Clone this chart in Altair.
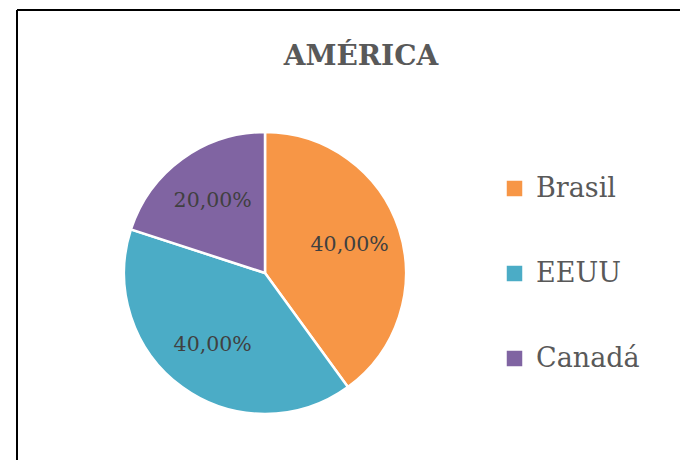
import altair as alt
import pandas as pd

countries = ["Brasil", "EEUU", "Canadá"]
shares = [40, 40, 20]
labels = ["40,00%", "40,00%", "20,00%"]
colors = ["#F79646", "#4BACC6", "#8064A2"]
title_text = "AMÉRICA"

df = pd.DataFrame({
    "pais": countries,
    "valor": shares,
    "etiqueta": labels,
    "orden": list(range(len(countries))),
})

W, H = 663, 450
CX, CY = 248, 263
R = 141
FONT = "DejaVu Serif"

base = alt.Chart(df).encode(
    theta=alt.Theta("valor:Q", stack=True),
    order=alt.Order("orden:Q"),
)

pie = base.mark_arc(outerRadius=R, stroke="white", strokeWidth=2.5).encode(
    x=alt.value(CX),
    y=alt.value(CY),
    color=alt.Color(
        "pais:N",
        sort=countries,
        scale=alt.Scale(domain=countries, range=colors),
        legend=alt.Legend(
            title=None,
            orient="none",
            legendX=484,
            legendY=165,
            padding=0,
            symbolType="square",
            symbolSize=240,
            symbolStrokeWidth=0,
            symbolOpacity=1,
            labelFont=FONT,
            labelFontSize=27,
            labelColor="#595959",
            labelOffset=8,
            rowPadding=57,
            labelLimit=300,
        ),
    ),
)

text = base.mark_text(
    radius=89, font=FONT, fontSize=20.5, color="#404040",
    align="center", baseline="middle",
).encode(
    x=alt.value(CX),
    y=alt.value(CY),
    text="etiqueta:N",
)

title = alt.Chart(pd.DataFrame({"t": [title_text]})).mark_text(
    font=FONT, fontSize=28, fontWeight="bold", color="#595959",
    align="center", baseline="alphabetic",
).encode(
    x=alt.value(344),
    y=alt.value(55),
    text="t:N",
)

frame_top = alt.Chart(pd.DataFrame({"k": [0]})).mark_rule(
    color="black", strokeWidth=2
).encode(x=alt.value(0), x2=alt.value(W + 10), y=alt.value(0))

frame_left = alt.Chart(pd.DataFrame({"k": [0]})).mark_rule(
    color="black", strokeWidth=2
).encode(x=alt.value(0), y=alt.value(0), y2=alt.value(H + 10))

chart = alt.layer(pie, text, title, frame_top, frame_left).properties(
    width=W,
    height=H,
    autosize=alt.AutoSizeParams(type="none"),
    padding={"left": 9, "top": 2, "right": 0, "bottom": 0},
    background="white",
).configure_view(
    strokeWidth=0,
)

chart.save("out.html", embed_options={"renderer": "svg", "actions": False})
